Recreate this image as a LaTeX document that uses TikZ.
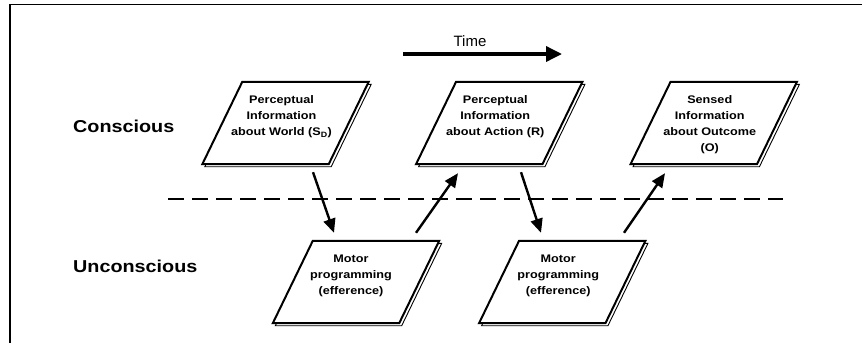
\documentclass[tikz,border=0pt]{standalone}
\usepackage{fontspec}
\setmainfont{Liberation Sans}
\newfontfamily\widefont{Liberation Sans}[FakeStretch=1.15]
\usetikzlibrary{arrows.meta,calc}

\newcommand\drawpara[1]{%
  \draw[shadowline] ($(#1.north west)+(42.5,2.5)$) -- ($(#1.north east)+(2.5,2.5)$)
     -- ($(#1.south east)+(-37.5,2.5)$) -- ($(#1.south west)+(2.5,2.5)$) -- cycle;
  \filldraw[paraline, fill=white] ($(#1.north west)+(40,0)$) -- (#1.north east)
     -- ($(#1.south east)+(-40,0)$) -- (#1.south west) -- cycle;
}

\begin{document}
\begin{tikzpicture}[x=1pt,y=-1pt,
  frameline/.style={line width=1.5pt},
  boxshape/.style={minimum width=166pt, minimum height=82pt, inner sep=0pt},
  boxtext/.style={anchor=north, inner sep=0pt, align=center,
     font=\widefont\bfseries\fontsize{11}{15.8}\selectfont},
  paraline/.style={line width=2pt},
  shadowline/.style={line width=0.9pt},
  flow/.style={line width=2.4pt, -{Triangle[length=14pt,width=12pt]}},
  timearrow/.style={line width=3.5pt, -{Triangle[length=16pt,width=15pt]}},
  lane/.style={anchor=base west, inner sep=0pt,
     font=\widefont\bfseries\fontsize{17.2}{20}\selectfont},
  divider/.style={line width=2.4pt, dash pattern=on 16pt off 8pt},
]
\fill[white] (0,0) rectangle (862,343);
\useasboundingbox (0,0) rectangle (862,343);

% frame (left and top edges)
\draw[frameline] (10,343) -- (10,4.5) -- (862,4.5);

% time arrow
\node[anchor=base, inner sep=0pt, font=\fontsize{15}{18}\selectfont] (timelbl) at (470,46.7) {Time};
\coordinate (t0) at (403,54);
\coordinate (t1) at (562,54);
\draw[timearrow] (t0) -- (t1);

% lane labels
\node[lane] (conscious) at (73,132) {Conscious};
\node[lane] (unconscious) at (73,272) {Unconscious};

% divider
\coordinate (d0) at (168,199);
\coordinate (d1) at (783,199);
\draw[divider] (d0) -- (d1);

% boxes
\node[boxshape] (p1) at (285.5,123) {};
\node[boxshape] (p2) at (499.25,123) {};
\node[boxshape] (p3) at (713.75,123) {};
\node[boxshape] (m1) at (356,282) {};
\node[boxshape] (m2) at (562.25,282) {};
\drawpara{p1}
\drawpara{p2}
\drawpara{p3}
\drawpara{m1}
\drawpara{m2}

\node[boxtext] (p1t) at ($(p1.north)+(-4,14)$) {Perceptual\\Information\\about World (S\textsubscript{D})};
\node[boxtext] (p2t) at ($(p2.north)+(-4,14)$) {Perceptual\\Information\\about Action (R)};
\node[boxtext] (p3t) at ($(p3.north)+(-4,14)$) {Sensed\\Information\\about Outcome\\(O)};
\node[boxtext] (m1t) at ($(m1.north)+(-5,14)$) {Motor\\programming\\(efference)};
\node[boxtext] (m2t) at ($(m2.north)+(-4,14)$) {Motor\\programming\\(efference)};

% connectors
\draw[flow] ($(p1.south)+(27.5,8)$) -- ($(m1.north)+(-22,-8)$);
\draw[flow] ($(m1.north)+(60,-8)$) -- ($(p2.south)+(-41.25,9)$);
\draw[flow] ($(p2.south)+(21.75,8)$) -- ($(m2.north)+(-21.25,-8)$);
\draw[flow] ($(m2.north)+(61.75,-8)$) -- ($(p3.south)+(-48.75,9)$);
\end{tikzpicture}
\end{document}
